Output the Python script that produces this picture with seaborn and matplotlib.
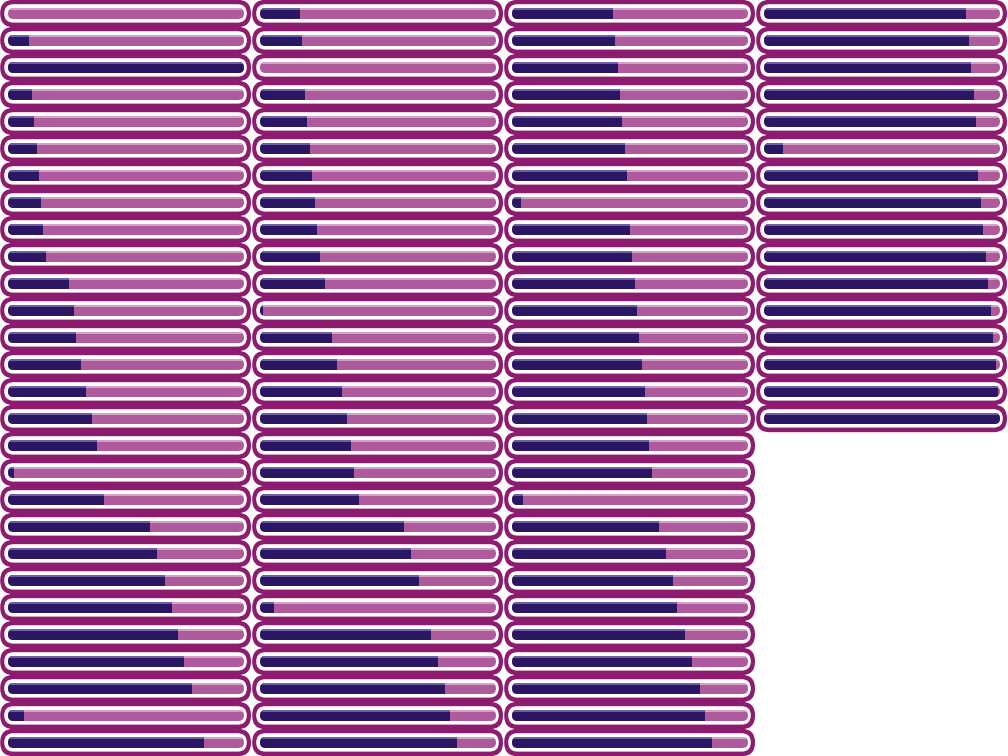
import matplotlib
matplotlib.use("Agg")
import matplotlib.pyplot as plt
from matplotlib.patches import FancyBboxPatch, Rectangle
import seaborn as sns
import pandas as pd

# fill fraction of every progress bar, read column by column, top to bottom
col1 = [0.00, 0.089, 1.00, 0.10, 0.11, 0.123, 0.13, 0.14, 0.15, 0.16,
        0.26, 0.28, 0.29, 0.31, 0.33, 0.356, 0.377, 0.025, 0.407, 0.60,
        0.63, 0.665, 0.695, 0.72, 0.747, 0.78, 0.068, 0.83]
col2 = [0.17, 0.18, 0.00, 0.19, 0.20, 0.212, 0.22, 0.233, 0.242, 0.254,
        0.275, 0.012, 0.305, 0.326, 0.347, 0.368, 0.386, 0.398, 0.418, 0.61,
        0.64, 0.673, 0.06, 0.725, 0.754, 0.785, 0.805, 0.835]
col3 = [0.428, 0.437, 0.449, 0.458, 0.466, 0.479, 0.487, 0.038, 0.50, 0.508,
        0.52, 0.53, 0.54, 0.55, 0.564, 0.572, 0.58, 0.593, 0.047, 0.623,
        0.652, 0.682, 0.70, 0.733, 0.763, 0.797, 0.818, 0.847]
col4 = [0.856, 0.869, 0.877, 0.89, 0.898, 0.08, 0.907, 0.92, 0.928, 0.94,
        0.95, 0.962, 0.97, 0.983, 0.99, 1.00]
columns = [col1, col2, col3, col4]

OUTER = "#8D1B70"
TRACK = "#AE5A9C"
TRACK_HI = "#D3A2C8"
FILL = "#2A1662"
FILL_HI = "#6D5FA6"

W, H = 1008, 756
CELL_W, CELL_H = 252, 27
N_ROWS = 28
TX, TY, TW, TH = 8, 8, 236, 11  # track box inside a cell, px

sns.set_style("white")
fig = plt.figure(figsize=(W / 100, H / 100), dpi=100)

bg = fig.add_axes([0, 0, 1, 1])
bg.set_xlim(0, W)
bg.set_ylim(H, 0)
bg.axis("off")

tracks = {}
for c, vals in enumerate(columns):
    for r in range(len(vals)):
        x0, y0 = c * CELL_W, r * CELL_H
        bg.add_patch(FancyBboxPatch((x0 + 0.2, y0 - 0.2), CELL_W - 1.2, CELL_H + 0.4,
                                    boxstyle="round,pad=0,rounding_size=13.5",
                                    fc=OUTER, ec="none"))
        bg.add_patch(FancyBboxPatch((x0 + 4.2, y0 + 4.2), CELL_W - 9.4, CELL_H - 8.6,
                                    boxstyle="round,pad=0,rounding_size=9.2",
                                    fc="white", ec="none"))
        tr = FancyBboxPatch((x0 + TX, y0 + TY), TW, TH,
                            boxstyle="round,pad=0,rounding_size=5.5",
                            fc=TRACK, ec="none")
        bg.add_patch(tr)
        hi = Rectangle((x0 + TX, y0 + TY), TW, 2.2, fc=TRACK_HI, ec="none")
        bg.add_patch(hi)
        hi.set_clip_path(tr)
        tracks[(c, r)] = tr

# filled part of each bar, one axes per column, value 0..1 maps onto the track
for c, vals in enumerate(columns):
    ax = fig.add_axes([c * CELL_W / W, 0, CELL_W / W, 1])
    ax.patch.set_visible(False)
    df = pd.DataFrame({"row": list(range(len(vals))), "value": vals})
    sns.barplot(data=df, x="value", y="row", orient="h", order=list(range(len(vals))),
                color=FILL, saturation=1, width=TH / CELL_H, errorbar=None,
                linewidth=0, ax=ax)
    ax.set_xlim(-TX / TW, (CELL_W - TX) / TW)
    ax.set_ylim(N_ROWS - 0.5, -0.5)
    ax.axis("off")
    for r, bar in enumerate(list(ax.patches)):
        bar.set_clip_path(tracks[(c, r)])
        hl = Rectangle((bar.get_x(), bar.get_y()), bar.get_width(),
                       bar.get_height() * 0.22, fc=FILL_HI, ec="none")
        ax.add_patch(hl)
        hl.set_clip_path(tracks[(c, r)])

fig.savefig("out.png", dpi=100)
